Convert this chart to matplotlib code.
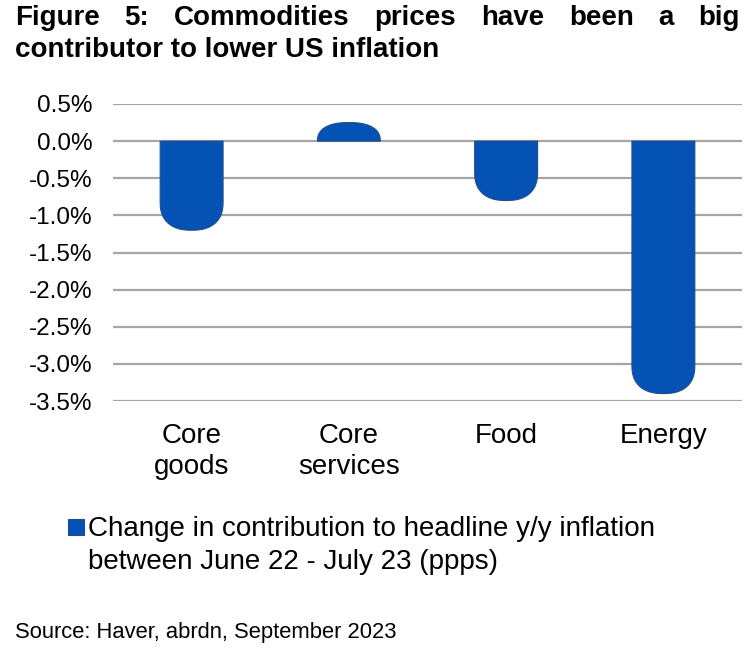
import numpy as np
import matplotlib.pyplot as plt
from matplotlib.path import Path
from matplotlib.patches import PathPatch, Rectangle

plt.rcParams["font.family"] = ["Liberation Sans", "DejaVu Sans"]

categories = ["Core\ngoods", "Core\nservices", "Food", "Energy"]
values = [-1.2, 0.25, -0.8, -3.4]
yticks = [0.5, 0.0, -0.5, -1.0, -1.5, -2.0, -2.5, -3.0, -3.5]
title_line1 = "Figure 5: Commodities prices have been a big"
title_line2 = "contributor to lower US inflation"
legend_label = "Change in contribution to headline y/y inflation\nbetween June 22 - July 23 (ppps)"
source = "Source: Haver, abrdn, September 2023"

bar_color = "#0552B5"
edge_color = "#234C8E"
W, H = 754, 650


def rounded_bar(x, v, width, ry, n=2.4):
    # bar from 0 to v with a rounded (superellipse) end
    s = np.sign(v)
    ry = min(ry, abs(v))
    rx = width / 2
    yc = v - s * ry
    t = np.linspace(np.pi, 0, 40)
    ex = x + rx * np.sign(np.cos(t)) * np.abs(np.cos(t)) ** (2 / n)
    ey = yc + s * ry * np.abs(np.sin(t)) ** (2 / n)
    verts = [(x - rx, 0)] + list(zip(ex, ey)) + [(x + rx, 0), (x - rx, 0)]
    codes = [Path.MOVETO] + [Path.LINETO] * (len(verts) - 2) + [Path.CLOSEPOLY]
    return Path(verts, codes)


fig = plt.figure(figsize=(W / 100, H / 100), dpi=100)
ax = fig.add_axes([113 / W, 1 - 401 / H, 629 / W, 297 / H])

xs = np.arange(len(values))
for x, v in zip(xs, values):
    p = PathPatch(rounded_bar(x, v, 0.4, 0.38), facecolor=bar_color,
                  edgecolor=edge_color, linewidth=0.8, zorder=3)
    ax.add_patch(p)

ax.set_xlim(-0.5, len(values) - 0.5)
ax.set_ylim(-3.5, 0.5)
ax.set_yticks(yticks)
ax.set_yticklabels([f"{t:.1f}%" for t in yticks], fontsize=17.5)
ax.set_xticks(xs)
ax.set_xticklabels(categories, fontsize=20, linespacing=1.22)
ax.tick_params(axis="both", length=0)
ax.tick_params(axis="y", pad=15)
ax.tick_params(axis="x", pad=16)
for sp in ax.spines.values():
    sp.set_visible(False)
ax.yaxis.grid(True, color="#A6A6A6", linewidth=1.6)
ax.set_axisbelow(True)

# legend key and label
fig.patches.append(Rectangle((68 / W, 1 - 535 / H), 16 / W, 16 / H,
                             transform=fig.transFigure, facecolor=bar_color,
                             edgecolor=edge_color, linewidth=0.8))
fig.text(88 / W, 1 - 536 / H, legend_label.split("\n")[0], fontsize=20, va="baseline")
fig.text(88 / W, 1 - 569 / H, legend_label.split("\n")[1], fontsize=20, va="baseline")

fig.text(15 / W, 1 - 638 / H, source, fontsize=15.8, va="baseline")

# justified title, line 1
renderer = fig.canvas.get_renderer()
words = title_line1.split()
texts = [fig.text(0, 1 - 25 / H, w, fontsize=20, fontweight="bold", va="baseline")
         for w in words]
widths = [t.get_window_extent(renderer).width for t in texts]
x0, x1 = 15, 740
gap = (x1 - x0 - sum(widths)) / (len(words) - 1)
xpos = x0
for t, w in zip(texts[:-1], widths[:-1]):
    t.set_x(xpos / W)
    xpos += w + gap
texts[-1].set_x(x1 / W)
texts[-1].set_ha("right")
fig.text(15 / W, 1 - 57 / H, title_line2, fontsize=20, fontweight="bold", va="baseline")

plt.savefig("out.png", dpi=100)
